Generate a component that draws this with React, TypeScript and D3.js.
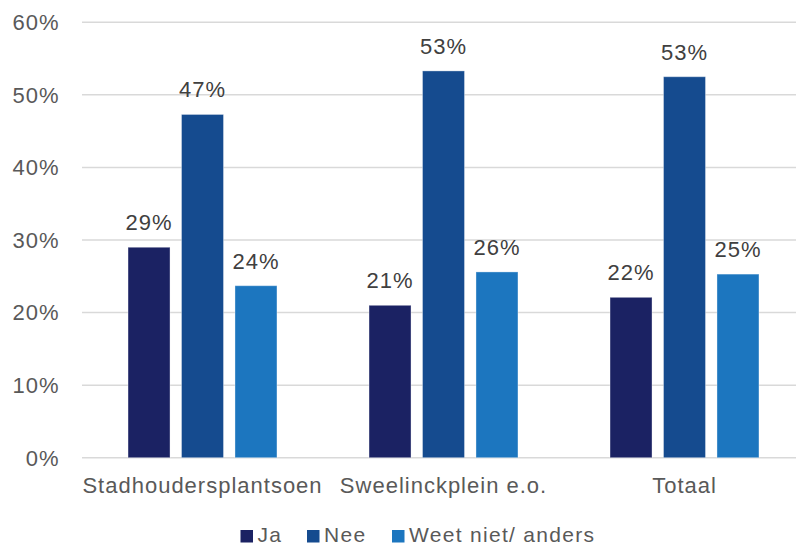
import React from "react";
import * as d3 from "d3";

const categories = ["Stadhoudersplantsoen", "Sweelinckplein e.o.", "Totaal"];
const seriesNames = ["Ja", "Nee", "Weet niet/ anders"];
const ja = [0.29, 0.21, 0.221];
const nee = [0.473, 0.533, 0.525];
const weet = [0.237, 0.256, 0.253];
const labelsJa = ["29%", "21%", "22%"];
const labelsNee = ["47%", "53%", "53%"];
const labelsWeet = ["24%", "26%", "25%"];
const yTicks = [0, 0.1, 0.2, 0.3, 0.4, 0.5, 0.6];
const colors = ["#1b2263", "#154b8f", "#1c76bf"];

const W = 796;
const H = 546;

export default function App() {
  const values = [ja, nee, weet];
  const labels = [labelsJa, labelsNee, labelsWeet];
  const x0 = d3
    .scaleBand<string>()
    .domain(categories)
    .range([82, 805])
    .paddingInner(0.382)
    .paddingOuter(0.191);
  const x1 = d3
    .scaleBand<string>()
    .domain(seriesNames)
    .range([0, x0.bandwidth()])
    .paddingInner(0.215);
  const y = d3.scaleLinear().domain([0, 0.6]).range([457.7, 22.3]);
  const fmt = d3.format(".0%");
  const font = "'Liberation Sans', Arial, sans-serif";

  const legendX = [240.5, 307, 392];

  return (
    <svg
      width={W}
      height={H}
      style={{ position: "absolute", left: 0, top: 0, background: "#fff" }}
      fontFamily={font}
    >
      <rect x={0} y={0} width={W} height={H} fill="#fff" />
      {yTicks.map((t) => (
        <g key={t}>
          <line x1={82} x2={796} y1={y(t)} y2={y(t)} stroke="#d9d9d9" strokeWidth={1.5} />
          <text
            x={59.5}
            y={y(t)}
            dy="0.36em"
            textAnchor="end"
            fontSize={22}
            letterSpacing={1}
            fill="#595959"
          >
            {fmt(t)}
          </text>
        </g>
      ))}
      {categories.map((c, ci) => (
        <g key={c} transform={`translate(${x0(c)},0)`}>
          {seriesNames.map((s, si) => {
            const v = values[si][ci];
            const bx = x1(s)!;
            return (
              <g key={s}>
                <rect
                  x={bx}
                  y={y(v)}
                  width={x1.bandwidth()}
                  height={y(0) - y(v)}
                  fill={colors[si]}
                  stroke="#ffffff"
                  strokeOpacity={0.35}
                  strokeWidth={1}
                />
                <text
                  x={bx + x1.bandwidth() / 2}
                  y={y(v) - 17}
                  textAnchor="middle"
                  fontSize={22}
                  letterSpacing={1}
                  fill="#404040"
                >
                  {labels[si][ci]}
                </text>
              </g>
            );
          })}
          <text
            x={x0.bandwidth() / 2}
            y={493}
            textAnchor="middle"
            fontSize={22}
            letterSpacing={1}
            fill="#595959"
          >
            {c}
          </text>
        </g>
      ))}
      {seriesNames.map((s, si) => (
        <g key={s}>
          <rect x={legendX[si]} y={530} width={12.5} height={12.5} fill={colors[si]} />
          <text
            x={legendX[si] + 17}
            y={541.5}
            fontSize={21}
            letterSpacing={1.3}
            fill="#595959"
          >
            {s}
          </text>
        </g>
      ))}
    </svg>
  );
}
